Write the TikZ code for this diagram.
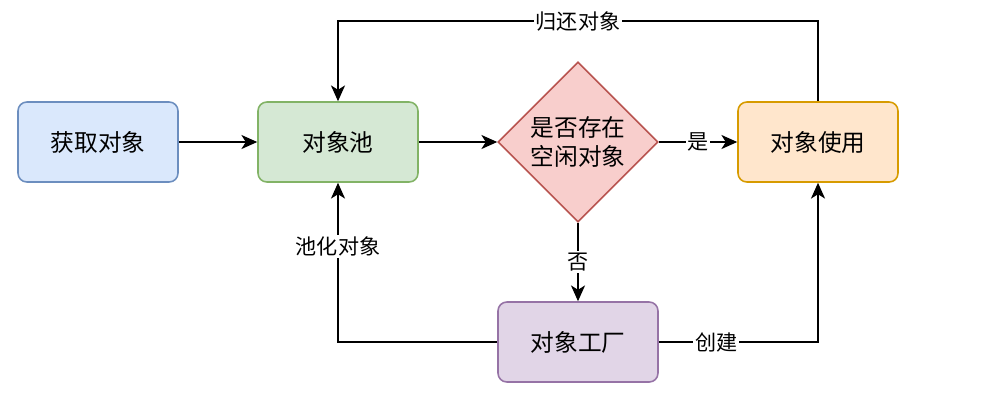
\documentclass[tikz,border=0pt]{standalone}
\usepackage{fontspec}
\setmainfont{Noto Sans CJK SC}
\usetikzlibrary{shapes.geometric,arrows.meta}
\definecolor{poolblue}{HTML}{DAE8FC}
\definecolor{poolbluedraw}{HTML}{6C8EBF}
\definecolor{poolgreen}{HTML}{D5E8D4}
\definecolor{poolgreendraw}{HTML}{82B366}
\definecolor{poolred}{HTML}{F8CECC}
\definecolor{poolreddraw}{HTML}{B85450}
\definecolor{poolorange}{HTML}{FFE6CC}
\definecolor{poolorangedraw}{HTML}{D79B00}
\definecolor{poolpurple}{HTML}{E1D5E7}
\definecolor{poolpurpledraw}{HTML}{9673A6}

\begin{document}
\begin{tikzpicture}[x=0.02cm,y=-0.02cm,>={Stealth[length=9pt,width=8pt,inset=2.5pt]},line width=1pt]

%
% Styles
%
\tikzstyle{box} = [rectangle,rounded corners=5pt,minimum width=3.2cm,minimum height=1.6cm,font=\fontsize{13.5}{17}\selectfont,line width=0.9pt]
\tikzstyle{choice} = [diamond,aspect=1,minimum width=3.2cm,minimum height=3.2cm,inner sep=0pt,align=center,font=\fontsize{13.5}{17}\selectfont,line width=0.9pt]
\tikzstyle{tag} = [fill=white,inner sep=1pt,font=\fontsize{12}{14}\selectfont]

\useasboundingbox (0,0) rectangle (983,407);

\node[box,draw=poolbluedraw,fill=poolblue] (get) at (98, 142) {获取对象};
\node[box,draw=poolgreendraw,fill=poolgreen] (pool) at (338, 142) {对象池};
\node[choice,draw=poolreddraw,fill=poolred] (idle) at (578, 142) {是否存在\\空闲对象};
\node[box,draw=poolorangedraw,fill=poolorange] (use) at (818, 142) {对象使用};
\node[box,draw=poolpurpledraw,fill=poolpurple] (factory) at (578, 342) {对象工厂};

\draw[->] (get) -- (pool);
\draw[->] (pool) -- (idle);
\draw[->] (idle) -- node[tag] {是} (use);
\draw[->] (idle) -- node[tag] {否} (factory);
\draw[->] (use.north) -- ++(0,-80) -| node[tag,pos=0.25] {归还对象} (pool.north);
\draw[->] (factory.west) -| node[tag,pos=0.8] {池化对象} (pool.south);
\draw[->] (factory.east) -| node[tag,pos=0.18] {创建} (use.south);

\end{tikzpicture}
\end{document}
